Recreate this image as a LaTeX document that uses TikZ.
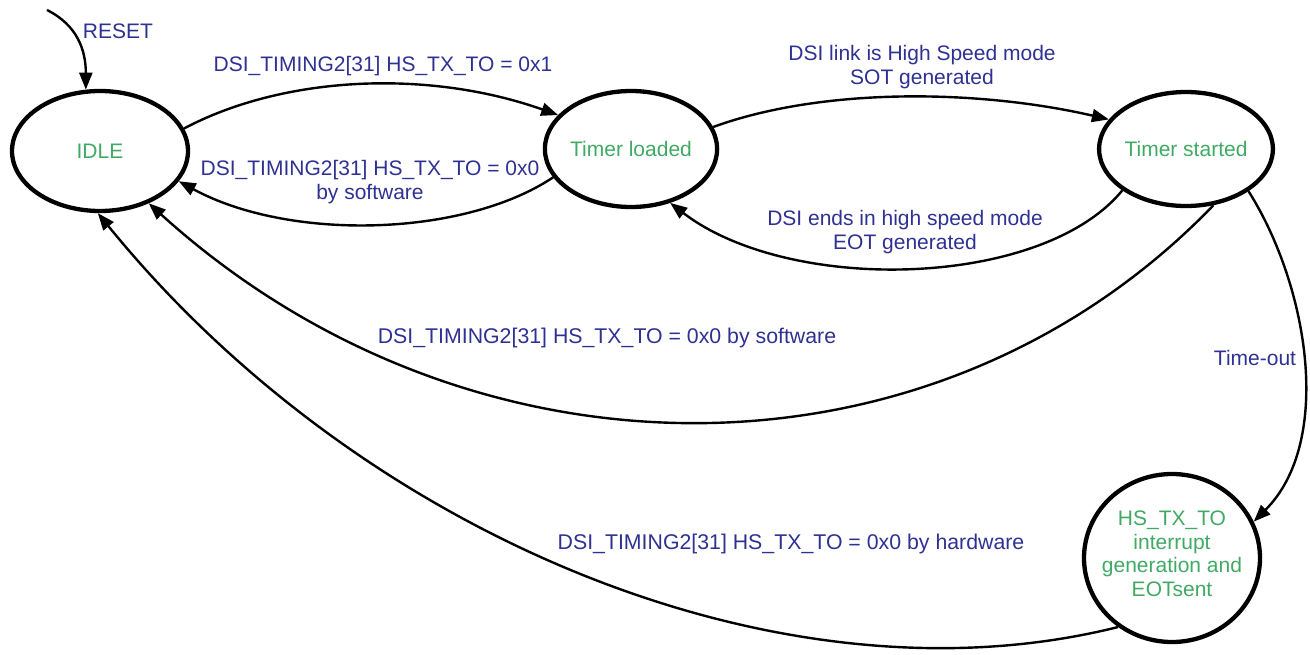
\documentclass[tikz,border=0pt]{standalone}
\usepackage{fontspec}
\setmainfont{Liberation Sans}
\usetikzlibrary{shapes.geometric,arrows.meta}
\definecolor{lblue}{RGB}{46,49,146}
\definecolor{sgreen}{RGB}{64,170,100}
\tikzset{
  stbox/.style={draw, ellipse, line width=4.3pt, inner sep=0pt, text=sgreen,
    font=\fontsize{21}{23.5}\selectfont},
  conn/.style={line width=2.4pt, -{Triangle[length=17pt,width=13pt]}},
  lbl/.style={text=lblue, font=\fontsize{21}{23.5}\selectfont, inner sep=0pt, align=center},
  lblw/.style={lbl, font=\fontsize{21.3}{23.5}\selectfont},
}
\begin{document}
\begin{tikzpicture}[x=1pt,y=-1pt]
\useasboundingbox (0,0) rectangle (1310,654);
\node[stbox, minimum width=176pt, minimum height=120pt] (idle) at (100,151) {IDLE};
\node[stbox, minimum width=158pt, minimum height=116pt] (tl) at (631,149) {Timer loaded};
\node[stbox, minimum width=164pt, minimum height=114pt] (ts) at (1186,149) {Timer started};
\node[stbox, minimum width=176pt, minimum height=168pt,
  label={[text=sgreen, font=\fontsize{21}{23.5}\selectfont, align=center, inner sep=0pt, yshift=4pt]center:{HS\_TX\_TO\\interrupt\\generation and\\EOTsent}}] (hs) at (1172,558) {};
\coordinate (rs) at (47,10);

\draw[conn] (rs) .. controls +(30,15) and +(0,-40) .. (idle.103);
\draw[conn] (idle.15) .. controls +(100,-53) and +(-130,-46) .. (tl.155);
\draw[conn] (tl.200) .. controls +(-90,60) and +(110,60) .. (idle.-21);
\draw[conn] (tl.15) .. controls +(110,-40) and +(-130,-30) .. (ts.159);
\draw[conn] (ts.213) .. controls +(-80,98) and +(120,92) .. (tl.-54);
\draw[conn] (ts.-64) .. controls +(-280,290) and +(320,290) .. (idle.-47);
\draw[conn] (ts.-34) .. controls +(60,95) and +(80,-80) .. (hs.24);
\draw[conn] (hs.232) .. controls +(-340,85) and +(260,320) .. (idle.-92);

\node[lbl] (lreset) at (118,31) {RESET};
\node[lbl] (l1) at (383,66) {DSI\_TIMING2[31] HS\_TX\_TO = 0x1};
\node[lbl] (l2) at (370,182) {DSI\_TIMING2[31] HS\_TX\_TO = 0x0\\by software};
\node[lbl] (l3) at (922,67) {DSI link is High Speed mode\\SOT generated};
\node[lbl] (l4) at (905,232) {DSI ends in high speed mode\\EOT generated};
\node[lblw] (l5) at (607,338) {DSI\_TIMING2[31] HS\_TX\_TO = 0x0 by software};
\node[lbl] (l6) at (1255,358) {Time-out};
\node[lblw] (l7) at (791,544) {DSI\_TIMING2[31] HS\_TX\_TO = 0x0 by hardware};
\end{tikzpicture}
\end{document}
